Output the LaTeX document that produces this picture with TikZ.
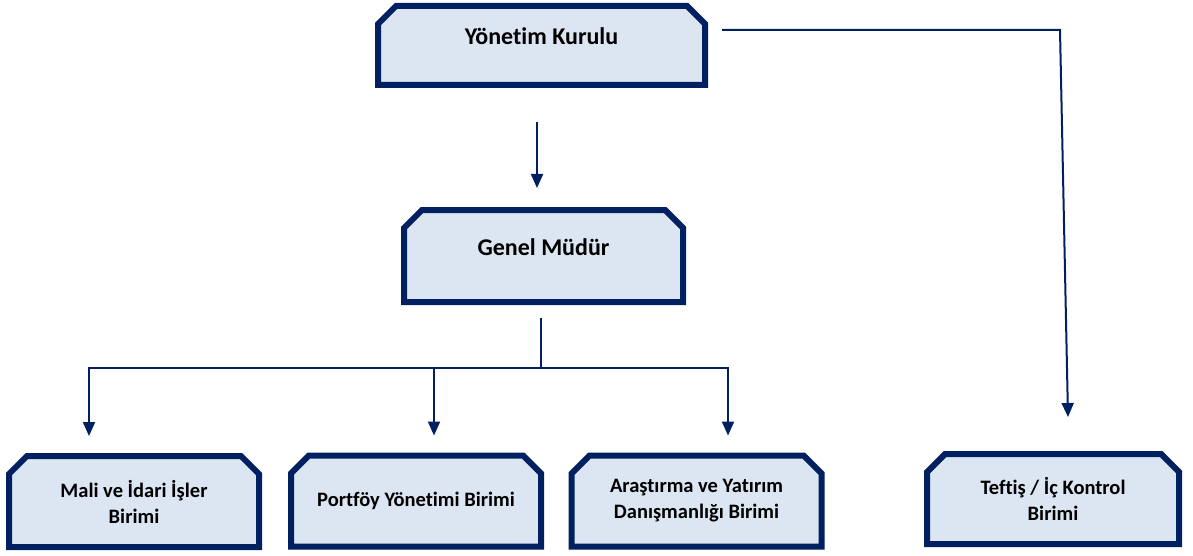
\documentclass[tikz,border=0pt]{standalone}
\usepackage{fontspec}
\setmainfont{Carlito}[Ligatures=NoCommon]
\usepackage{tikz}
\usetikzlibrary{shapes.misc,arrows.meta}
\definecolor{navy}{HTML}{002060}
\definecolor{boxfill}{HTML}{DCE6F2}

\begin{document}
\begin{tikzpicture}[x=1pt,y=-1pt,
  unit/.style={chamfered rectangle, chamfered rectangle corners={north west,north east},
    chamfered rectangle xsep=9pt, chamfered rectangle ysep=9pt, draw=navy, line width=6pt,
    fill=boxfill, align=center, inner sep=0pt, font=\bfseries\fontsize{20.5}{26}\selectfont},
  head/.style={unit, font=\bfseries\fontsize{24}{28}\selectfont, text height=11pt, text depth=12pt},
  link/.style={navy, line width=2pt},
  arr/.style={link, -{Triangle[width=12pt,length=14pt]}}]
  \useasboundingbox (0,0) rectangle (1193,556);
  \node[head, minimum width=327pt, minimum height=79pt] (yk) at (541.5,45.5) {Yönetim Kurulu};
  \node[head, minimum width=279pt, minimum height=92pt] (gm) at (543.5,256) {Genel Müdür};
  \node[unit, minimum width=250pt, minimum height=91pt] (mali) at (134,501.5) {Mali ve İdari İşler\\Birimi};
  \node[unit, minimum width=250pt, minimum height=91pt] (port) at (416,501) {Portföy Yönetimi Birimi};
  \node[unit, minimum width=250pt, minimum height=91pt] (arge) at (696.5,501) {Araştırma ve Yatırım\\Danışmanlığı Birimi};
  \node[unit, minimum width=252pt, minimum height=90pt] (teftis) at (1053,499) {Teftiş / İç Kontrol\\Birimi};

  \draw[arr] ([xshift=-4.5pt,yshift=-34pt]yk.south) -- ([xshift=-6.5pt,yshift=19pt]gm.north);
  \draw[link] ([xshift=-2.5pt,yshift=-13pt]gm.south) -- ++(0,50) coordinate (hub);
  \draw[arr] (hub) -| ([xshift=-45pt,yshift=17pt]mali.north);
  \draw[arr] (hub) -| ([xshift=18pt,yshift=17pt]port.north);
  \draw[arr] (hub) -| ([xshift=31.5pt,yshift=17pt]arge.north);
  \draw[arr] ([xshift=14pt,yshift=15.5pt]yk.east) -- ++(338,0) -- ([xshift=15pt,yshift=34pt]teftis.north);
\end{tikzpicture}
\end{document}
